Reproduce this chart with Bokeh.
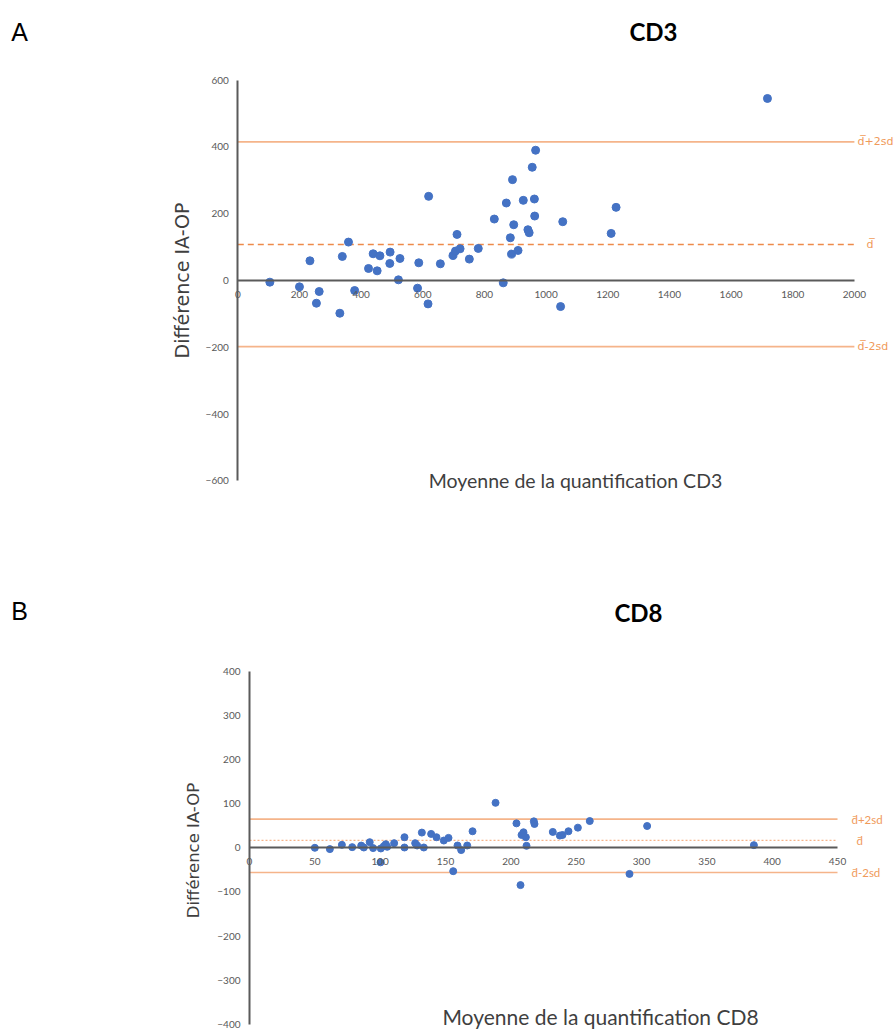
import math
from bokeh.plotting import figure
from bokeh.models import Range1d, FixedTicker
from bokeh.layouts import column
from bokeh.embed import file_html
from bokeh.resources import INLINE
from bokeh.core.properties import value

# ---------------- data ----------------
cd3_mean = [104, 200, 234, 264, 255, 331, 339, 359, 379, 424, 439, 461, 452, 493, 494,
            526, 521, 583, 587, 617, 619, 657, 698, 706, 711, 721, 751, 780, 832, 861,
            871, 884, 888, 891, 895, 909, 926, 941, 945, 955, 962, 963, 966, 1054, 1227,
            1211, 1047, 1718]
cd3_diff = [-5, -19, 59, -33, -68, -98, 72, 115, -30, 36, 80, 74, 29, 51, 85,
            66, 2, -23, 53, -70, 252, 50, 75, 88, 138, 95, 64, 96, 184, -7,
            232, 128, 79, 302, 167, 90, 240, 152, 143, 339, 244, 193, 390, 176, 219,
            141, -78, 545]
cd3_limits = [415, 108, -198]          # d+2sd, d, d-2sd
cd3_xticks = [0, 200, 400, 600, 800, 1000, 1200, 1400, 1600, 1800, 2000]
cd3_yticks = [-600, -400, -200, 0, 200, 400, 600]

cd8_mean = [50, 61.5, 70.7, 78.6, 85.5, 87.5, 92, 94.6, 100.3, 100.5, 102.8, 104.3, 105.4,
            110.7, 118.6, 118.6, 126.8, 128.3, 131.9, 133.4, 139, 143.1, 148.7, 152.3,
            155.9, 159.2, 162, 166.6, 170.7, 188.3, 204.3, 207.4, 208.2, 209.7, 211.5,
            212, 217.6, 218.1, 232.1, 237.5, 239.5, 244.1, 251.3, 260.4, 304.3, 386, 290.8]
cd8_diff = [0, -3, 6.7, 1.5, 5, 0.7, 12.7, -0.7, -33, -1.5, 3.7, 8.2, 2.2,
            10.5, 24, 0.7, 10.5, 5.2, 34.5, 0.7, 31.5, 24, 16.5, 22.5,
            -53, 5.2, -5.2, 5.2, 37.5, 102, 55.4, -84.6, 29.2, 35.2, 24,
            4.5, 60, 54, 36, 27.7, 29, 37.5, 45.7, 60.7, 49.4, 6, -59.2]
cd8_limits = [65, 17, -56]
cd8_xticks = [0, 50, 100, 150, 200, 250, 300, 350, 400, 450]
cd8_yticks = [-400, -300, -200, -100, 0, 100, 200, 300, 400]

labels_A = ["d\u0305+2sd", "d\u0305", "d\u0305-2sd"]
labels_B = ["d\u0304+2sd", "d\u0304", "d\u0304-2sd"]

# ---------------- styling ----------------
W = 894
BLUE = "#4472C4"
LINE_OR = "#F5B48A"
DASH_OR = "#EE8A4A"
TEXT_OR = "#F09A5A"
AXIS_C = "#5A5A5A"
LABEL_C = "#3F3F3F"
TICK_C = "#595959"
FONT = "Lato"


def make_panel(H, top, x0s, y0s, kx, ky, xticks, yticks):
    xl = x0s
    yl = y0s - top
    p = figure(width=W, height=H, output_backend="svg", toolbar_location=None,
               x_range=Range1d(-xl / kx, (W - xl) / kx),
               y_range=Range1d(-(H - yl) / ky, yl / ky),
               min_border=0, min_border_left=0, min_border_right=0,
               min_border_top=0, min_border_bottom=0)
    p.outline_line_color = None
    p.grid.visible = False
    p.background_fill_color = "white"
    p.border_fill_color = "white"
    for ax, ticks in ((p.xaxis, xticks), (p.yaxis, yticks)):
        ax.fixed_location = 0
        ax.ticker = FixedTicker(ticks=ticks)
        ax.bounds = (min(ticks), max(ticks))
        ax.axis_line_color = AXIS_C
        ax.axis_line_width = 2
        ax.major_tick_out = 0
        ax.major_tick_in = 0
        ax.minor_tick_out = 0
        ax.minor_tick_in = 0
        ax.major_label_text_font = FONT
        ax.major_label_text_font_size = "10px"
        ax.major_label_text_color = TICK_C
    p.xaxis.major_label_standoff = 10
    p.yaxis.major_label_standoff = 9

    def X(px):
        return (px - x0s) / kx

    def Y(py):
        return (y0s - py) / ky
    return p, X, Y


def draw(p, means, diffs, limits, xticks, labels, mean_dash, mean_color, mean_w,
         lab_x, lab_dx_mean, lab_font, lab_size, size):
    xmin, xmax = min(xticks), max(xticks)
    p.line([xmin, xmax], [limits[0]] * 2, line_color=LINE_OR, line_width=1.6)
    p.line([xmin, xmax], [limits[2]] * 2, line_color=LINE_OR, line_width=1.6)
    p.line([xmin, xmax], [limits[1]] * 2, line_color=mean_color, line_width=mean_w,
           line_dash=mean_dash)
    p.scatter(means, diffs, size=size, fill_color=BLUE, line_color=BLUE)
    lx = [lab_x, lab_x + lab_dx_mean, lab_x]
    p.text(lx, limits, text=labels, text_color=TEXT_OR,
           text_font=value(lab_font), text_font_size=lab_size,
           text_baseline="middle", text_align="left")


# ---------------- panel A ----------------
HA = 503
pA, XA, YA = make_panel(HA, 0, 237.3, 280.0, 0.3083, 0.334, cd3_xticks, cd3_yticks)
draw(pA, cd3_mean, cd3_diff, cd3_limits, cd3_xticks, labels_A, "6 4", DASH_OR, 1.6,
     XA(857), XA(866) - XA(857), "DejaVu Sans", "11px", 8)
pA.text([XA(19)], [YA(31)], text=["A"], text_font=value("Liberation Sans"),
        text_font_size="25px", text_color="black", text_align="center",
        text_baseline="middle")
pA.text([XA(653)], [YA(31)], text=["CD3"], text_font=value(FONT),
        text_font_size="24px", text_font_style="bold", text_color="black",
        text_align="center", text_baseline="middle")
pA.text([XA(181)], [YA(280)], text=["Différence IA-OP"], angle=math.pi / 2,
        text_font=value("DejaVu Sans"), text_font_size="19px", text_color=LABEL_C,
        text_align="center", text_baseline="middle")
pA.text([XA(575)], [YA(480)], text=["Moyenne de la quantification CD3"],
        text_font=value(FONT), text_font_size="19.5px", text_color=LABEL_C,
        text_align="center", text_baseline="middle")

# ---------------- panel B ----------------
HB = 1029 - HA
topB = HA
pB, XB, YB = make_panel(HB, topB, 249.0, 847.3, 1.3067, 0.441, cd8_xticks, cd8_yticks)
draw(pB, cd8_mean, cd8_diff, cd8_limits, cd8_xticks, labels_B, "2 2", LINE_OR, 1.2,
     XB(851), XB(856) - XB(851), FONT, "11.5px", 7)
pB.text([XB(19)], [YB(610)], text=["B"], text_font=value("Liberation Sans"),
        text_font_size="25px", text_color="black", text_align="center",
        text_baseline="middle")
pB.text([XB(638)], [YB(612)], text=["CD8"], text_font=value(FONT),
        text_font_size="24px", text_font_style="bold", text_color="black",
        text_align="center", text_baseline="middle")
pB.text([XB(193)], [YB(850)], text=["Différence IA-OP"], angle=math.pi / 2,
        text_font=value("DejaVu Sans"), text_font_size="16.5px", text_color=LABEL_C,
        text_align="center", text_baseline="middle")
pB.text([XB(600)], [YB(1016)], text=["Moyenne de la quantification CD8"],
        text_font=value(FONT), text_font_size="21px", text_color=LABEL_C,
        text_align="center", text_baseline="middle")

layout = column(pA, pB, spacing=0)
open("out.html", "w").write(file_html(layout, INLINE))
